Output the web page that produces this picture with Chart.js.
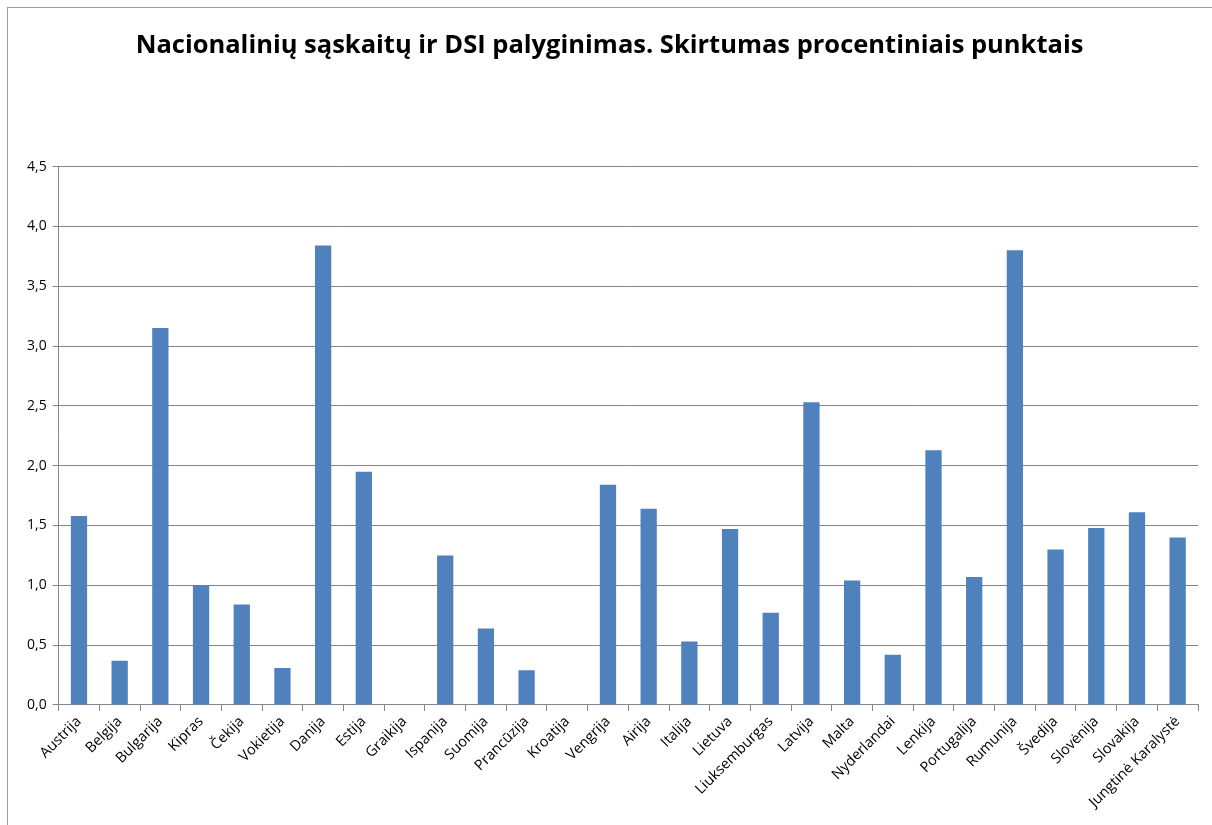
<!DOCTYPE html>
<html>
<head>
    <title>Nacionalinių sąskaitų ir DSI palyginimas</title>
    <script src="https://cdn.jsdelivr.net/npm/chart.js@4.4.0/dist/chart.umd.min.js"></script>
    <style>
    html, body { margin: 0; padding: 0; background: #fff; }
    #frame {
        position: absolute; left: 7px; top: 7px; width: 1220px; height: 840px;
        border: 1px solid #a0a0a0;
    }
    #container { position: absolute; left: 0; top: 0; width: 1212px; height: 825px; }
    </style>
</head>
<body>
  <div id="frame"></div>
  <div id="container"><canvas id="myCanvas"></canvas></div>
  <script>
    var countries = ["Austrija", "Belgija", "Bulgarija", "Kipras", "Čekija", "Vokietija", "Danija",
      "Estija", "Graikija", "Ispanija", "Suomija", "Prancūzija", "Kroatija", "Vengrija", "Airija",
      "Italija", "Lietuva", "Liuksemburgas", "Latvija", "Malta", "Nyderlandai", "Lenkija",
      "Portugalija", "Rumunija", "Švedija", "Slovėnija", "Slovakija", "Jungtinė Karalystė"];
    var diff = [1.58, 0.37, 3.15, 1.00, 0.84, 0.31, 3.84,
      1.95, 0, 1.25, 0.64, 0.29, 0, 1.84, 1.64,
      0.53, 1.47, 0.77, 2.53, 1.04, 0.42, 2.13,
      1.07, 3.80, 1.30, 1.48, 1.61, 1.40];
    var yTicks = [0, 0.5, 1, 1.5, 2, 2.5, 3, 3.5, 4, 4.5];

    var font = "'Open Sans', 'DejaVu Sans', sans-serif";
    new Chart(document.getElementById("myCanvas"), {
      type: 'bar',
      data: {
        labels: countries,
        datasets: [{
          label: "Skirtumas",
          backgroundColor: "#4f81bd",
          data: diff,
          barPercentage: 0.4,
          categoryPercentage: 1.0
        }]
      },
      options: {
        responsive: true,
        maintainAspectRatio: false,
        animation: false,
        layout: { padding: { left: 21, right: 14, top: 0, bottom: 12 } },
        plugins: {
          legend: { display: false },
          tooltip: { enabled: false },
          title: {
            display: true,
            text: 'Nacionalinių sąskaitų ir DSI palyginimas. Skirtumas procentiniais punktais',
            color: '#000',
            font: { family: font, size: 25.5, weight: 'bold' },
            padding: { top: 30, bottom: 106 }
          }
        },
        scales: {
          x: {
            offset: true,
            grid: { display: true, drawOnChartArea: false, drawTicks: true, tickLength: 6, color: '#868686', offset: true },
            border: { color: '#868686' },
            ticks: {
              color: '#000',
              font: { family: font, size: 14.5 },
              maxRotation: 45, minRotation: 45, autoSkip: false, padding: 2
            }
          },
          y: {
            min: 0, max: 4.5,
            afterBuildTicks: function(axis) { axis.ticks = yTicks.map(function(v) { return { value: v }; }); },
            grid: { color: '#868686', tickLength: 6 },
            border: { color: '#868686' },
            ticks: {
              color: '#000',
              font: { family: font, size: 14 },
              padding: 6,
              callback: function(v) { return v.toFixed(1).replace('.', ','); }
            }
          }
        }
      }
    });
  </script>
</body>
</html>
